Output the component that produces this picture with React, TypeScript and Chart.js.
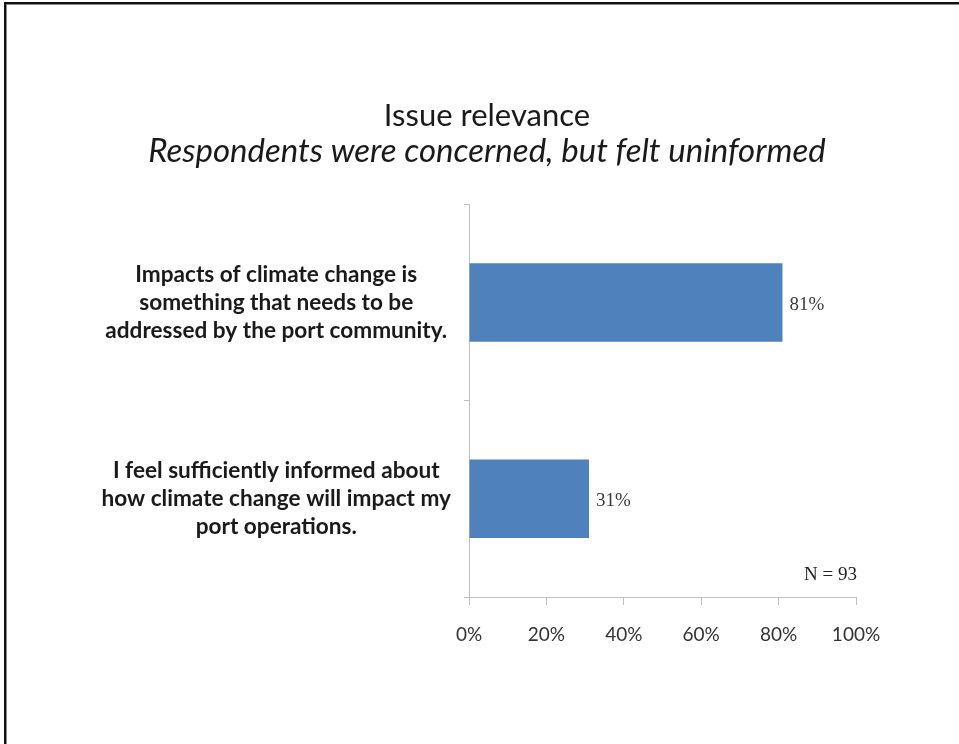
import React, { useEffect, useRef } from "react";
import { Chart, registerables } from "chart.js";

Chart.register(...registerables);

const categories: string[][] = [
  ["Impacts of climate change is", "something that needs to be", "addressed by the port community."],
  ["I feel sufficiently informed about", "how climate change will impact my", "port operations."],
];
const values: number[] = [81, 31];
const xMin = 0;
const xMax = 100;
const xStep = 20;
const titleText = "Issue relevance";
const subtitleText = "Respondents were concerned, but felt uninformed";
const noteText = "N = 93";

const W = 959;
const H = 744;
const AXIS_COLOR = "#bfbfbf";
const PAD_LEFT = 15;
const PLOT_LEFT = 469;
const PLOT_RIGHT = 856;

const framePlugin = {
  id: "frame",
  beforeDraw(chart: any) {
    const ctx = chart.ctx;
    ctx.save();
    ctx.fillStyle = "#ffffff";
    ctx.fillRect(0, 0, chart.width, chart.height);
    ctx.fillStyle = "#111111";
    ctx.fillRect(4, 2, 2, chart.height - 2);
    ctx.fillRect(4, 2, chart.width - 4, 2);
    ctx.fillStyle = "#8a8a8a";
    ctx.fillRect(6, 4, 1, chart.height - 4);
    ctx.fillRect(6, 4, chart.width - 6, 1);
    ctx.restore();
  },
};

const labelPlugin = {
  id: "valueLabels",
  afterDatasetsDraw(chart: any) {
    const ctx = chart.ctx;
    const meta = chart.getDatasetMeta(0);
    ctx.save();
    ctx.font = '19px "Liberation Serif", serif';
    ctx.fillStyle = "#3a3a3a";
    ctx.textAlign = "left";
    ctx.textBaseline = "middle";
    meta.data.forEach((bar: any, i: number) => {
      ctx.fillText(values[i] + "%", bar.x + 7, bar.y + 2);
    });
    ctx.fillStyle = "#222222";
    ctx.textAlign = "right";
    ctx.fillText(noteText, chart.chartArea.right + 1, chart.chartArea.bottom - 22);
    ctx.restore();
  },
};

export default function App() {
  const canvasRef = useRef<HTMLCanvasElement | null>(null);

  useEffect(() => {
    if (!canvasRef.current) return;
    const chart = new Chart(canvasRef.current, {
      type: "bar",
      data: {
        labels: categories,
        datasets: [
          {
            data: values,
            backgroundColor: "#4F81BD",
            borderWidth: 0,
            barPercentage: 0.4,
            categoryPercentage: 1,
          },
        ],
      },
      options: {
        indexAxis: "y",
        responsive: false,
        animation: false,
        layout: { padding: { left: PAD_LEFT, right: 0, top: 99, bottom: 0 } },
        plugins: {
          legend: { display: false },
          tooltip: { enabled: false },
          title: {
            display: true,
            text: titleText,
            color: "#1a1a1a",
            font: { family: "Lato", size: 31, weight: "normal", lineHeight: 1.1 },
            padding: { top: 0, bottom: 0 },
          },
          subtitle: {
            display: true,
            text: subtitleText,
            color: "#1a1a1a",
            font: { family: "Lato", size: 33, style: "italic", weight: "normal", lineHeight: 1.1 },
            padding: { top: 0, bottom: 35 },
          },
        },
        scales: {
          x: {
            type: "linear",
            min: xMin,
            max: xMax,
            ticks: {
              stepSize: xStep,
              callback: (v: any) => v + "%",
              color: "#333333",
              font: { family: "Lato", size: 19 },
              padding: 18,
              maxRotation: 0,
            },
            grid: {
              display: true,
              drawOnChartArea: false,
              drawTicks: true,
              tickLength: 8,
              color: AXIS_COLOR,
            },
            border: { display: true, color: AXIS_COLOR },
            afterFit: (scale: any) => {
              scale.height = 147;
            },
          },
          y: {
            type: "category",
            ticks: {
              color: "#1a1a1a",
              font: { family: "Lato", size: 22.6, weight: "bold", lineHeight: 1.24 },
              crossAlign: "center",
              padding: 13,
            },
            grid: {
              display: true,
              offset: true,
              drawOnChartArea: false,
              drawTicks: true,
              tickLength: 5,
              color: AXIS_COLOR,
            },
            border: { display: true, color: AXIS_COLOR },
            afterFit: (scale: any) => {
              scale.width = PLOT_LEFT - PAD_LEFT;
            },
          },
          yRight: {
            type: "category",
            position: "right",
            display: true,
            ticks: { display: false },
            grid: { display: false },
            border: { display: false },
            afterFit: (scale: any) => {
              scale.width = W - PLOT_RIGHT;
            },
          },
        },
      },
      plugins: [framePlugin, labelPlugin],
    });
    return () => chart.destroy();
  }, []);

  return (
    <div style={{ position: "fixed", left: 0, top: 0, width: W, height: H, background: "#fff" }}>
      <canvas ref={canvasRef} width={W} height={H} style={{ display: "block" }} />
    </div>
  );
}
